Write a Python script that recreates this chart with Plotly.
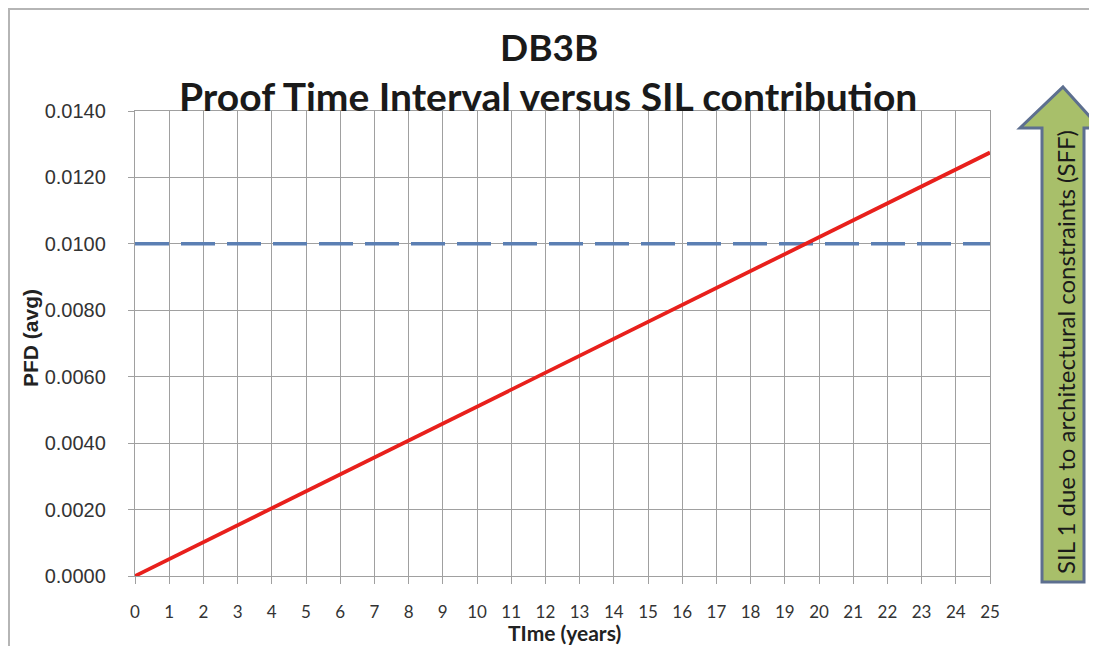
import plotly.graph_objects as go

# Data
years = list(range(0, 26))
pfd_avg = [0.0, 0.00051, 0.00102, 0.00153, 0.00204, 0.00255, 0.00306, 0.00357,
           0.00408, 0.00459, 0.00510, 0.00561, 0.00612, 0.00663, 0.00714, 0.00765,
           0.00816, 0.00867, 0.00918, 0.00969, 0.01020, 0.01071, 0.01122, 0.01173,
           0.01224, 0.01275]
sil_limit_x = [0, 25]
sil_limit_y = [0.0100, 0.0100]
y_ticks = [0.0, 0.002, 0.004, 0.006, 0.008, 0.010, 0.012, 0.014]
y_tick_labels = ["0.0000", "0.0020", "0.0040", "0.0060", "0.0080", "0.0100", "0.0120", "0.0140"]

OFF = 8  # page body margin
W, H = 1097 - OFF, 646 - OFF
# plot area in page pixels
L, R, T, B = 135, 990, 111, 576

def px(x, y):
    return ((x - L) / (R - L), (B - y) / (B - T))

fig = go.Figure()
fig.add_trace(go.Scatter(x=sil_limit_x, y=sil_limit_y, mode="lines",
                         line=dict(color="#5b7fb3", width=3.5, dash="34px,12px"),
                         showlegend=False, hoverinfo="skip"))
fig.add_trace(go.Scatter(x=years, y=pfd_avg, mode="lines",
                         line=dict(color="#e8201c", width=3.8),
                         showlegend=False))

grid = "#a0a0a0"
fig.update_xaxes(range=[0, 25], tickmode="array", tickvals=years,
                 ticktext=[str(v) for v in years],
                 showgrid=True, gridcolor=grid, gridwidth=1.4,
                 showline=True, linecolor=grid, linewidth=1.4, mirror=True,
                 ticks="outside", ticklen=7, tickcolor=grid,
                 ticklabelstandoff=13,
                 tickfont=dict(family="Lato", size=17, color="#333333"),
                 zeroline=False)
fig.update_yaxes(range=[0, 0.014], tickmode="array", tickvals=y_ticks,
                 ticktext=y_tick_labels,
                 showgrid=True, gridcolor=grid, gridwidth=1.4,
                 showline=True, linecolor=grid, linewidth=1.4, mirror=True,
                 ticks="outside", ticklen=6, tickcolor=grid,
                 ticklabelstandoff=18,
                 tickfont=dict(family="Liberation Sans", size=20, color="#333333"),
                 zeroline=False)

shapes = []
# outer border (left and top visible)
x0, y0 = px(9, 9)
x1, y1 = px(1110, 660)
shapes.append(dict(type="rect", xref="paper", yref="paper", x0=x0, y0=y1, x1=x1, y1=y0,
                   line=dict(color="#b5b5b5", width=2), fillcolor="rgba(0,0,0,0)", layer="below"))
# arrow
pts = [(1063, 87), (1100, 128), (1084, 128), (1084, 582), (1042, 582), (1042, 128), (1020, 128)]
path = "M " + " L ".join("%f,%f" % px(a, b) for a, b in pts) + " Z"
shapes.append(dict(type="path", xref="paper", yref="paper", path=path,
                   fillcolor="#a8bf6a", line=dict(color="#5d6f8f", width=3)))
fig.update_layout(shapes=shapes)

def note(x, y, text, size, family="Lato", angle=0, color="#1a1a1a"):
    ax, ay = px(x, y)
    fig.add_annotation(x=ax, y=ay, xref="paper", yref="paper", text=text,
                       showarrow=False, textangle=angle,
                       xanchor="center", yanchor="middle",
                       font=dict(family=family, size=size, color=color))

note(1065, 352, "SIL 1 due to architectural constraints (SFF)", 24, angle=-90)
note(549, 47, "<b>DB3B</b>", 37)
note(548, 96, "<b>Proof Time Interval versus SIL contribution</b>", 39)
note(30, 338, "<b>PFD (avg)</b>", 21, family="Liberation Sans", angle=-90, color="#222222")
note(564, 632, "<b>TIme (years)</b>", 21, color="#222222")

fig.update_layout(width=W, height=H,
                  margin=dict(l=L - OFF, r=W - (R - OFF), t=T - OFF, b=H - (B - OFF)),
                  paper_bgcolor="white", plot_bgcolor="white")
fig.write_html("out.html")
